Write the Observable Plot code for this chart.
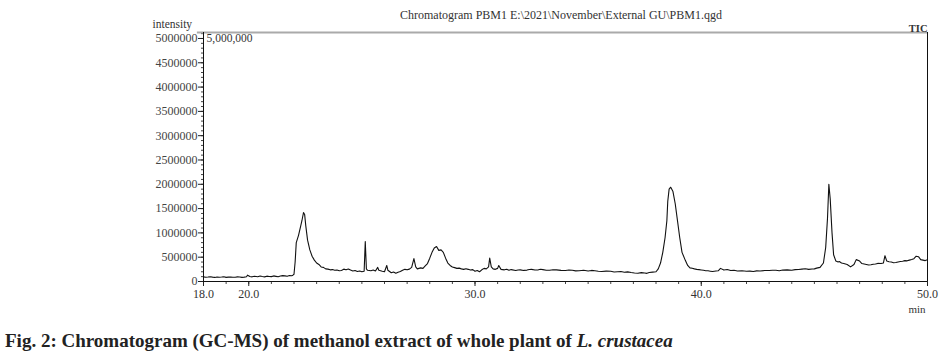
<!DOCTYPE html>
<html><head><meta charset="utf-8">
<script src="https://cdn.jsdelivr.net/npm/d3@7"></script>
<script src="https://cdn.jsdelivr.net/npm/@observablehq/plot@0.6"></script>
<style>
body{margin:0;background:#fff;}
#chart svg{display:block;}
#caption{font-family:"Liberation Serif","Times New Roman",serif;font-weight:bold;font-size:19px;color:#222;padding-left:5px;margin-top:12px;white-space:nowrap;letter-spacing:0px;}
</style></head>
<body><div id="chart"></div>
<div id="caption">Fig. 2: Chromatogram (GC-MS) of methanol extract of whole plant of <i>L. crustacea</i></div>
<script>
const title = "Chromatogram PBM1 E:\\2021\\November\\External GU\\PBM1.qgd";
const yLabel = "intensity";
const xUnit = "min";
const traceName = "TIC";
const scaleNote = "5,000,000";
const xLabels = [18, 20, 30, 40, 50];
const yTicks = [0, 500000, 1000000, 1500000, 2000000, 2500000, 3000000, 3500000, 4000000, 4500000, 5000000];
const time = [18.0,18.1,18.2,18.3,18.4,18.5,18.6,18.7,18.8,18.9,19.0,19.1,19.2,19.3,19.4,19.5,19.6,19.7,19.8,19.9,19.95,20.05,20.15,20.25,20.4,20.5,20.6,20.7,20.8,20.9,21.0,21.1,21.2,21.3,21.4,21.5,21.6,21.7,21.8,21.9,21.95,22.0,22.05,22.1,22.2,22.3,22.35,22.42,22.47,22.52,22.6,22.7,22.8,22.9,23.0,23.1,23.2,23.3,23.4,23.5,23.6,23.7,23.8,23.9,24.0,24.1,24.2,24.3,24.4,24.5,24.6,24.7,24.8,24.9,25.0,25.1,25.15,25.2,25.25,25.4,25.5,25.6,25.7,25.75,25.9,26.0,26.1,26.15,26.3,26.4,26.5,26.6,26.7,26.8,26.9,27.0,27.1,27.2,27.3,27.38,27.45,27.6,27.7,27.8,27.9,28.0,28.1,28.2,28.3,28.4,28.5,28.6,28.7,28.8,28.9,29.0,29.1,29.2,29.3,29.4,29.5,29.6,29.7,29.8,29.9,30.0,30.1,30.2,30.3,30.4,30.5,30.6,30.65,30.72,30.8,30.9,31.0,31.05,31.15,31.3,31.4,31.5,31.6,31.8,31.9,32.0,32.15,32.3,32.4,32.5,32.65,32.8,32.9,33.0,33.15,33.3,33.45,33.6,33.8,34.0,34.15,34.3,34.45,34.6,34.8,35.0,35.15,35.3,35.45,35.6,35.8,36.0,36.15,36.3,36.45,36.6,36.75,36.9,37.05,37.2,37.35,37.5,37.6,37.7,37.85,38.0,38.1,38.2,38.3,38.4,38.48,38.52,38.58,38.65,38.75,38.85,38.95,39.05,39.15,39.3,39.4,39.5,39.6,39.7,39.8,39.9,40.0,40.1,40.2,40.3,40.4,40.5,40.65,40.75,40.85,41.0,41.15,41.3,41.45,41.6,41.8,42.0,42.15,42.3,42.45,42.6,42.8,43.0,43.15,43.3,43.45,43.6,43.8,44.0,44.15,44.3,44.45,44.6,44.75,44.9,45.0,45.1,45.25,45.4,45.5,45.58,45.64,45.7,45.78,45.85,45.95,46.05,46.1,46.2,46.3,46.45,46.6,46.75,46.85,47.0,47.1,47.2,47.3,47.4,47.5,47.6,47.7,47.8,47.95,48.05,48.12,48.2,48.3,48.4,48.5,48.6,48.7,48.8,48.9,49.0,49.1,49.2,49.3,49.4,49.5,49.6,49.7,49.8,49.9,50.0];
const intensity = [95,88,92,99,90,84,94,87,91,97,85,90,94,86,89,96,92,84,90,98,130,104,96,108,98,112,102,95,110,104,100,115,106,98,112,120,116,108,122,118,130,150,400,800,950,1150,1250,1420,1380,1150,850,650,520,440,380,350,300,290,260,255,240,245,230,235,220,225,255,240,258,235,215,225,205,215,200,210,820,260,230,220,235,215,290,230,210,200,330,230,180,195,170,190,205,230,250,240,255,290,470,300,260,280,270,320,370,480,600,690,720,640,650,600,480,380,330,300,285,270,275,260,250,262,250,235,245,210,225,200,240,270,260,300,480,300,260,250,270,330,250,240,252,230,245,225,238,240,228,235,248,250,236,240,252,245,232,230,242,240,228,225,236,230,218,220,232,215,228,220,210,205,214,210,196,200,205,190,198,185,175,170,182,175,168,185,192,200,260,380,600,900,1250,1650,1900,1940,1850,1600,1250,900,600,430,330,280,272,260,250,245,238,230,222,220,212,205,215,220,270,235,248,225,230,215,222,210,214,205,218,215,226,225,232,230,222,235,240,232,245,248,255,262,250,258,260,275,290,380,700,1300,2000,1700,1000,550,420,400,410,380,372,350,300,350,450,420,370,360,350,338,345,355,360,372,370,380,530,420,405,400,385,390,402,410,418,430,425,440,452,470,520,510,450,440,430,448,440].map(v => v * 1000);
const data = time.map((t, i) => ({t, v: intensity[i]}));

const minorX = d3.range(18, 50.01, 1);
const minorY = d3.range(0, 5100001, 100000);
const font = "Liberation Serif, Times New Roman, serif";
const yTop = 5123000;

const chart = Plot.plot({
  width: 951, height: 318,
  marginLeft: 203, marginRight: 24, marginTop: 32, marginBottom: 37,
  style: {fontFamily: font, fontSize: "12px", color: "#333", background: "#fff"},
  x: {domain: [18, 50]},
  y: {domain: [0, yTop]},
  marks: [
    Plot.axisX(minorX, {tickSize: 3, tickFormat: () => "", label: null, stroke: "#444"}),
    Plot.axisX(xLabels, {tickSize: 5, tickPadding: 3, tickFormat: d3.format(".1f"), label: null, stroke: "#222", fontSize: 12}),
    Plot.axisY(minorY, {tickSize: 2, tickFormat: () => "", label: null, stroke: "#444"}),
    Plot.axisY(yTicks, {tickSize: 5, tickPadding: 1, tickFormat: d => String(d), label: null, stroke: "#222", fill: "#444", fontSize: 12}),
    Plot.ruleY([yTop], {x1: 17.73, x2: 50, stroke: "#aaa", strokeWidth: 2}),
    Plot.ruleX([18], {y1: 0, y2: yTop, stroke: "#111"}),
    Plot.ruleX([50], {y1: 0, y2: yTop, stroke: "#111"}),
    Plot.ruleY([0], {stroke: "#111"}),
    Plot.line(data, {x: "t", y: "v", stroke: "#111", strokeWidth: 1.1}),
    Plot.text([scaleNote], {frameAnchor: "top-left", dx: 3, dy: 1, textAnchor: "start", fontSize: 11.5, fill: "#333"}),
    Plot.text([title], {frameAnchor: "top", x: 33.8, dy: -22, fontSize: 12, fill: "#333"}),
    Plot.text([yLabel], {frameAnchor: "top-left", dx: -51, dy: -13, textAnchor: "start", fontSize: 11.5, fill: "#333"}),
    Plot.text([traceName], {frameAnchor: "top-right", dx: 0, dy: -8, textAnchor: "end", fontSize: 10.5, fill: "#333", fontWeight: "bold"}),
    Plot.text([xUnit], {frameAnchor: "bottom-right", dx: -2, dy: 31, textAnchor: "end", fontSize: 11, fill: "#333"})
  ]
});
document.getElementById("chart").append(chart);
</script>
</body></html>
